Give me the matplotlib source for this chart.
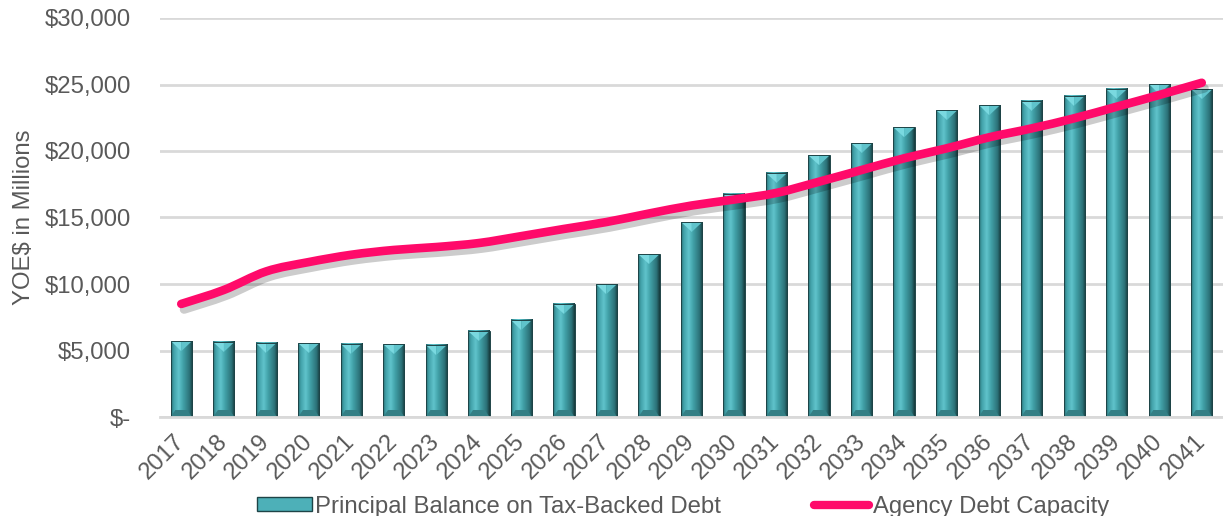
import numpy as np
import matplotlib
matplotlib.use("Agg")
import matplotlib.pyplot as plt
from matplotlib.patches import Polygon, Rectangle, PathPatch
from matplotlib.path import Path
from matplotlib.lines import Line2D
from matplotlib.colors import to_rgb
import matplotlib.patheffects as pe

years = [str(y) for y in range(2017, 2042)]
principal = [5700, 5640, 5600, 5560, 5520, 5480, 5420, 6470, 7300, 8500, 10000, 12250,
             14650, 16800, 18350, 19680, 20580, 21780, 23060, 23430, 23780, 24160, 24680, 25010, 24640]
capacity = [8500, 9550, 10950, 11650, 12200, 12560, 12780, 13080, 13600, 14140, 14660, 15300,
            15900, 16350, 16850, 17690, 18570, 19450, 20200, 21030, 21700, 22460, 23330, 24210, 25130]
yticks = [0, 5000, 10000, 15000, 20000, 25000, 30000]
ytick_labels = ["$-", "$5,000", "$10,000", "$15,000", "$20,000", "$25,000", "$30,000"]

plt.rcParams['font.family'] = ['Liberation Sans', 'DejaVu Sans']
TXT = '#595959'
GRID = '#D9D9D9'
PINK = '#FF0A6A'
FS = 17.2

fig = plt.figure(figsize=(12.23, 5.16), dpi=100)
ax = fig.add_axes([160/1223, 1-417/516, (1223-160)/1223, (417-18)/516])

x = np.arange(len(years))
w = 0.5
bars = ax.bar(x, principal, width=w, color='#3E9CA3', edgecolor='none', zorder=2)

# horizontal gradient for bevelled bars
stops = [(0.0, '#2A6C72'), (0.12, '#41A1A8'), (0.35, '#60C3CB'), (0.55, '#42A2A9'),
         (0.85, '#2C7278'), (1.0, '#163A3C')]
N = 64
pos = np.linspace(0, 1, N)
cols = np.zeros((1, N, 3))
sp = [s[0] for s in stops]
for c in range(3):
    cols[0, :, c] = np.interp(pos, sp, [to_rgb(s[1])[c] for s in stops])

px_per_unit = (417 - 18) / 30000.0
d_top = 10 / px_per_unit
d_bot = 7 / px_per_unit
for b in bars:
    x0 = b.get_x(); x1 = x0 + b.get_width(); h = b.get_height(); xc = x0 + b.get_width() / 2
    ax.imshow(cols, extent=[x0, x1, 0, h], aspect='auto', zorder=2.1, interpolation='bilinear')
    bev = b.get_width() * 0.22
    ax.add_patch(Polygon([(x0, h), (xc, h), (xc, h - d_top)], closed=True,
                         facecolor='#7AD9E0', edgecolor='none', zorder=2.2))
    ax.add_patch(Polygon([(xc, h), (x1, h), (xc, h - d_top)], closed=True,
                         facecolor='#5FC3CB', edgecolor='none', zorder=2.2))
    ax.add_patch(Polygon([(x0, 0), (x1, 0), (x1 - bev, d_bot), (x0 + bev, d_bot)], closed=True,
                         facecolor='#347F85', edgecolor='none', zorder=2.2))
    ax.add_patch(Rectangle((x0, 0), x1 - x0, h, facecolor='none', edgecolor='#1E4447',
                           linewidth=0.7, zorder=2.3))

# smoothed line (Catmull-Rom bezier rendering of the data points)
pts = np.column_stack([x, capacity]).astype(float)
verts = [tuple(pts[0])]
codes = [Path.MOVETO]
for i in range(len(pts) - 1):
    p0 = pts[i - 1] if i > 0 else pts[i]
    p1 = pts[i]; p2 = pts[i + 1]
    p3 = pts[i + 2] if i + 2 < len(pts) else pts[i + 1]
    c1 = p1 + (p2 - p0) / 6.0
    c2 = p2 - (p3 - p1) / 6.0
    verts += [tuple(c1), tuple(c2), tuple(p2)]
    codes += [Path.CURVE4] * 3
path = Path(verts, codes)
line = PathPatch(path, facecolor='none', edgecolor=PINK, linewidth=6.2, capstyle='round',
                 joinstyle='round', zorder=4)
line.set_path_effects([pe.SimpleLineShadow(offset=(2, -4), shadow_color='#000000', alpha=0.2),
                       pe.Normal()])
ax.add_patch(line)

ax.set_xlim(-0.5, len(years) - 0.5)
ax.set_ylim(0, 30000)
ax.set_yticks(yticks)
ax.set_yticklabels(ytick_labels, fontsize=FS, color=TXT)
ax.set_xticks(x)
ax.set_xticklabels(years, rotation=45, ha='right', va='center', rotation_mode='anchor',
                   fontsize=FS, color=TXT)
ax.tick_params(axis='both', length=0)
ax.tick_params(axis='y', pad=21)
ax.tick_params(axis='x', pad=15)
ax.grid(axis='y', color=GRID, linewidth=2, zorder=0)
ax.set_axisbelow(True)
for s in ['top', 'right', 'left']:
    ax.spines[s].set_visible(False)
ax.spines['bottom'].set_color(GRID)
ax.spines['bottom'].set_linewidth(2)
ax.set_ylabel('YOE$ in Millions', fontsize=FS, color=TXT)
ax.yaxis.set_label_coords(-0.1176, 0.5)

h_bar = Rectangle((0, 0), 1, 1, facecolor='#4DB0B8', edgecolor='#1E4447', linewidth=1)
h_line = Line2D([0], [0], color=PINK, linewidth=6, solid_capstyle='round')
fig.legend([h_bar, h_line], ['Principal Balance on Tax-Backed Debt', 'Agency Debt Capacity'],
           loc='lower center', bbox_to_anchor=(0.5585, -0.045), ncol=2, frameon=False,
           fontsize=FS, labelcolor=TXT, handlelength=2.3, handleheight=0.55,
           columnspacing=3.9, handletextpad=0.15)

fig.savefig('out.png', dpi=100)
